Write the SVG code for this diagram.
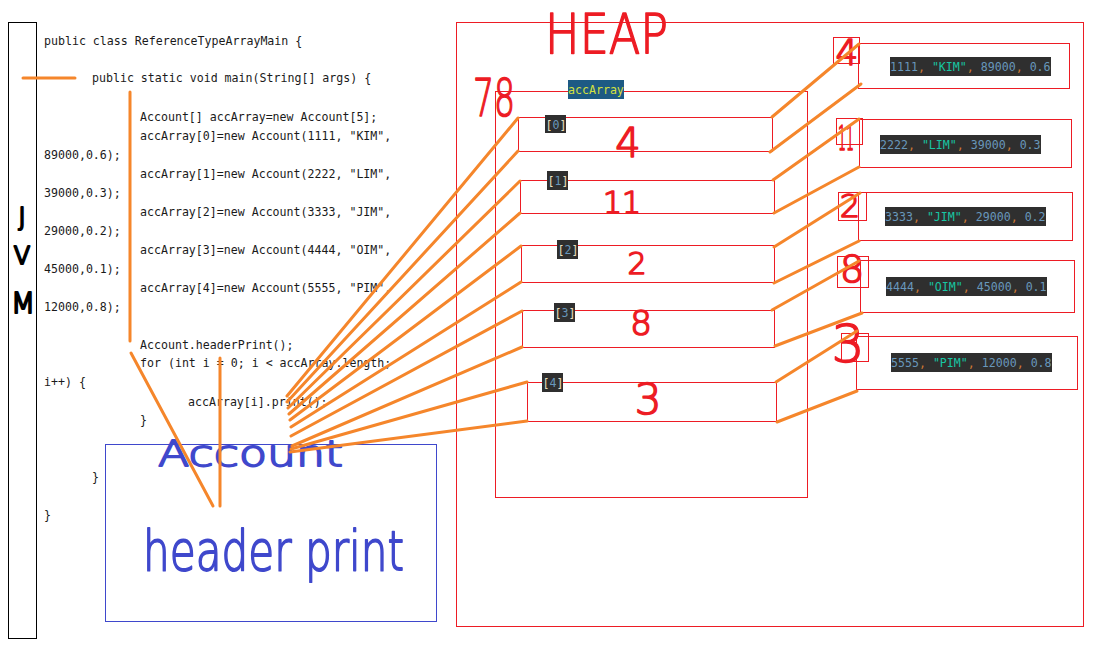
<svg xmlns="http://www.w3.org/2000/svg" width="1106" height="652" viewBox="0 0 1106 652">
<style>
.code{font-family:"DejaVu Sans Mono","Liberation Mono",monospace;font-size:11.6px;fill:#1a1a1a}
.mono{font-family:"DejaVu Sans Mono","Liberation Mono",monospace;font-size:11.6px}
.red{fill:none;stroke:#ed1c24;stroke-width:1}
.hr{font-family:"DejaVu Sans","Liberation Sans",sans-serif;font-weight:200;fill:#ed1c24;stroke:#ed1c24;stroke-width:1.6;stroke-linejoin:round}
.hb{font-family:"DejaVu Sans","Liberation Sans",sans-serif;font-weight:200;fill:#3f48cc;stroke:#3f48cc;stroke-width:1.8;stroke-linejoin:round}
.hk{font-family:"DejaVu Sans","Liberation Sans",sans-serif;font-weight:200;fill:#000;stroke:#000;stroke-width:2.2;stroke-linejoin:round}
.dark{fill:#2f2f2f}
.num{fill:#6897bb}
.str{fill:#17c6a3}
.pun{fill:#cc7832}
.br{fill:#e8e0c0}
.conn line{stroke:#f5862b;stroke-width:3;stroke-linecap:round}
</style>
<rect width="1106" height="652" fill="#ffffff"/>

<g id="jvm">
<rect x="8.5" y="22.5" width="28" height="616" fill="none" stroke="#000" stroke-width="1"/>
<text class="hk" x="22" y="225" font-size="24" text-anchor="middle">J</text>
<text class="hk" x="22" y="264" font-size="24" text-anchor="middle">V</text>
<text class="hk" x="23" y="313" font-size="28" text-anchor="middle">M</text>
</g>

<g id="code" class="code">
<text x="44" y="45">public class ReferenceTypeArrayMain {</text>
<text x="92" y="82">public static void main(String[] args) {</text>
<text x="140" y="121">Account[] accArray=new Account[5];</text>
<text x="140" y="140">accArray[0]=new Account(1111, "KIM",</text>
<text x="44" y="159">89000,0.6);</text>
<text x="140" y="178">accArray[1]=new Account(2222, "LIM",</text>
<text x="44" y="197">39000,0.3);</text>
<text x="140" y="216">accArray[2]=new Account(3333, "JIM",</text>
<text x="44" y="235">29000,0.2);</text>
<text x="140" y="254">accArray[3]=new Account(4444, "OIM",</text>
<text x="44" y="273">45000,0.1);</text>
<text x="140" y="292">accArray[4]=new Account(5555, "PIM",</text>
<text x="44" y="311">12000,0.8);</text>
<text x="140" y="349">Account.headerPrint();</text>
<text x="140" y="367">for (int i = 0; i &lt; accArray.length;</text>
<text x="44" y="386">i++) {</text>
<text x="188" y="406">accArray[i].print();</text>
<text x="140" y="424">}</text>
<text x="92" y="481">}</text>
<text x="44" y="519">}</text>
</g>

<g id="account">
<rect x="105.5" y="444.5" width="331" height="177" fill="none" stroke="#3f48cc" stroke-width="1"/>
<text class="hb" x="158" y="466" font-size="36" textLength="185" lengthAdjust="spacingAndGlyphs">Account</text>
<text class="hb" x="143" y="570" font-size="56" textLength="261" lengthAdjust="spacingAndGlyphs">header print</text>
</g>

<g id="heap">
<rect class="red" x="456.5" y="22.5" width="627" height="604"/>
<text class="hr" x="545" y="53" font-size="56" textLength="123" lengthAdjust="spacingAndGlyphs">HEAP</text>
</g>

<g id="array">
<rect class="red" x="495.5" y="91.5" width="312" height="406"/>
<text class="hr" x="473" y="116" font-size="52" textLength="42" lengthAdjust="spacingAndGlyphs">78</text>
<rect x="568" y="80" width="56" height="19" fill="#1d5a84"/>
<text class="mono" x="568" y="94" fill="#d4e040">accArray</text>
</g>

<g id="slot0">
<rect class="red" x="518.5" y="117.5" width="254" height="34"/>
<rect class="dark" x="545" y="115" width="21" height="18"/>
<text class="mono" x="545.5" y="128.5"><tspan class="br">[</tspan><tspan class="num">0</tspan><tspan class="br">]</tspan></text>
<text class="hr" x="628" y="157" font-size="40" text-anchor="middle">4</text>
</g>
<g id="slot1">
<rect class="red" x="520.5" y="180.5" width="254" height="33"/>
<rect class="dark" x="547" y="171" width="21" height="19"/>
<text class="mono" x="547.5" y="185"><tspan class="br">[</tspan><tspan class="num">1</tspan><tspan class="br">]</tspan></text>
<text class="hr" x="622" y="213" font-size="30" text-anchor="middle">11</text>
</g>
<g id="slot2">
<rect class="red" x="521.5" y="245.5" width="253" height="37"/>
<rect class="dark" x="557" y="240" width="21" height="19"/>
<text class="mono" x="557.5" y="254"><tspan class="br">[</tspan><tspan class="num">2</tspan><tspan class="br">]</tspan></text>
<text class="hr" x="637" y="274" font-size="30" text-anchor="middle">2</text>
</g>
<g id="slot3">
<rect class="red" x="522.5" y="310.5" width="252" height="37"/>
<rect class="dark" x="554" y="303" width="21" height="19"/>
<text class="mono" x="554.5" y="317"><tspan class="br">[</tspan><tspan class="num">3</tspan><tspan class="br">]</tspan></text>
<text class="hr" x="641" y="335" font-size="34" text-anchor="middle">8</text>
</g>
<g id="slot4">
<rect class="red" x="527.5" y="382.5" width="249" height="39"/>
<rect class="dark" x="542" y="373" width="21" height="19"/>
<text class="mono" x="542.5" y="387"><tspan class="br">[</tspan><tspan class="num">4</tspan><tspan class="br">]</tspan></text>
<text class="hr" x="648" y="414" font-size="42" text-anchor="middle">3</text>
</g>

<g id="obj1">
<rect class="red" x="858.5" y="43.5" width="211" height="45"/>
<rect class="red" x="833.5" y="37.5" width="26" height="26"/>
<text class="hr" x="847" y="65" font-size="36" text-anchor="middle">4</text>
<rect class="dark" x="890" y="57" width="161" height="19"/>
<text class="mono" x="890" y="71"><tspan class="num">1111</tspan><tspan class="pun">, </tspan><tspan class="str">"KIM"</tspan><tspan class="pun">, </tspan><tspan class="num">89000</tspan><tspan class="pun">, </tspan><tspan class="num">0.6</tspan></text>
</g>
<g id="obj2">
<rect class="red" x="859.5" y="119.5" width="212" height="48"/>
<rect class="red" x="836.5" y="118.5" width="26" height="26"/>
<text class="hr" x="838" y="150" font-size="34" textLength="16" lengthAdjust="spacingAndGlyphs">11</text>
<rect class="dark" x="880" y="135" width="161" height="19"/>
<text class="mono" x="880" y="149"><tspan class="num">2222</tspan><tspan class="pun">, </tspan><tspan class="str">"LIM"</tspan><tspan class="pun">, </tspan><tspan class="num">39000</tspan><tspan class="pun">, </tspan><tspan class="num">0.3</tspan></text>
</g>
<g id="obj3">
<rect class="red" x="858.5" y="192.5" width="214" height="48"/>
<rect class="red" x="838.5" y="192.5" width="28" height="28"/>
<text class="hr" x="850" y="217" font-size="32" text-anchor="middle">2</text>
<rect class="dark" x="885" y="207" width="161" height="19"/>
<text class="mono" x="885" y="221"><tspan class="num">3333</tspan><tspan class="pun">, </tspan><tspan class="str">"JIM"</tspan><tspan class="pun">, </tspan><tspan class="num">29000</tspan><tspan class="pun">, </tspan><tspan class="num">0.2</tspan></text>
</g>
<g id="obj4">
<rect class="red" x="860.5" y="260.5" width="214" height="52"/>
<rect class="red" x="837.5" y="256.5" width="31" height="31"/>
<text class="hr" x="852" y="282" font-size="38" text-anchor="middle">8</text>
<rect class="dark" x="886" y="277" width="161" height="19"/>
<text class="mono" x="886" y="291"><tspan class="num">4444</tspan><tspan class="pun">, </tspan><tspan class="str">"OIM"</tspan><tspan class="pun">, </tspan><tspan class="num">45000</tspan><tspan class="pun">, </tspan><tspan class="num">0.1</tspan></text>
</g>
<g id="obj5">
<rect class="red" x="856.5" y="336.5" width="221" height="53"/>
<rect class="red" x="841.5" y="333.5" width="27" height="28"/>
<text class="hr" x="848" y="362" font-size="52" text-anchor="middle">3</text>
<rect class="dark" x="891" y="353" width="161" height="19"/>
<text class="mono" x="891" y="367"><tspan class="num">5555</tspan><tspan class="pun">, </tspan><tspan class="str">"PIM"</tspan><tspan class="pun">, </tspan><tspan class="num">12000</tspan><tspan class="pun">, </tspan><tspan class="num">0.8</tspan></text>
</g>

<g id="connectors" class="conn">
<line x1="23" y1="78" x2="75" y2="78"/>
<line x1="130" y1="92" x2="130" y2="341"/>
<line x1="131" y1="353" x2="213" y2="506"/>
<line x1="220" y1="358" x2="220" y2="506"/>
<line x1="287" y1="396" x2="518" y2="118"/>
<line x1="287" y1="402" x2="518" y2="151"/>
<line x1="288" y1="408" x2="520" y2="181"/>
<line x1="289" y1="414" x2="520" y2="213"/>
<line x1="290" y1="420" x2="521" y2="246"/>
<line x1="291" y1="427" x2="521" y2="282"/>
<line x1="291" y1="436" x2="522" y2="311"/>
<line x1="292" y1="446" x2="522" y2="347"/>
<line x1="291" y1="449" x2="527" y2="382"/>
<line x1="290" y1="452" x2="527" y2="421"/>
<line x1="772" y1="117" x2="859" y2="44"/>
<line x1="770" y1="152" x2="861" y2="84"/>
<line x1="773" y1="180" x2="859" y2="119"/>
<line x1="774" y1="213" x2="859" y2="167"/>
<line x1="774" y1="247" x2="860" y2="193"/>
<line x1="774" y1="283" x2="859" y2="241"/>
<line x1="772" y1="310" x2="859" y2="261"/>
<line x1="775" y1="346" x2="862" y2="313"/>
<line x1="776" y1="382" x2="857" y2="331"/>
<line x1="777" y1="422" x2="857" y2="391"/>
</g>
</svg>
